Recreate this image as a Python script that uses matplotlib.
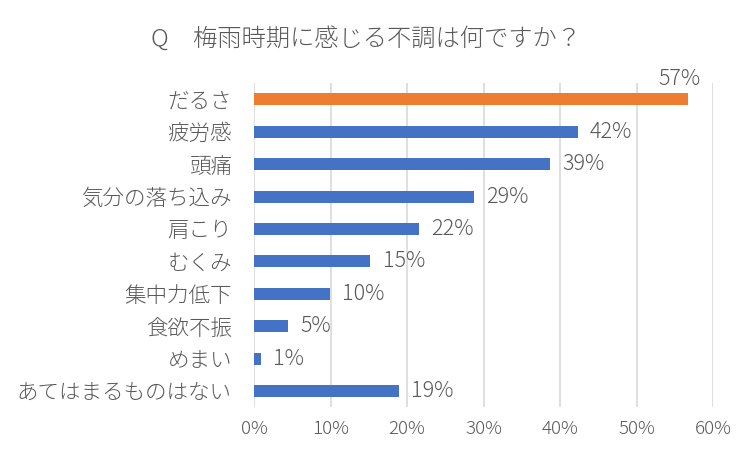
import matplotlib
matplotlib.use('Agg')
import matplotlib.pyplot as plt
import numpy as np

plt.rcParams['font.family'] = ['Noto Sans CJK JP', 'DejaVu Sans']
plt.rcParams['font.weight'] = 'light'

categories = ['だるさ', '疲労感', '頭痛', '気分の落ち込み', '肩こり', 'むくみ',
              '集中力低下', '食欲不振', 'めまい', 'あてはまるものはない']
values = [56.7, 42.3, 38.7, 28.7, 21.5, 15.2, 9.9, 4.4, 0.9, 18.9]
labels = ['57%', '42%', '39%', '29%', '22%', '15%', '10%', '5%', '1%', '19%']
bar_colors = ['#ED7D31'] + ['#4472C4'] * 9
xticks = [0, 10, 20, 30, 40, 50, 60]

text_col = '#595959'

fig = plt.figure(figsize=(7.54, 4.57), dpi=100)
ax = fig.add_axes([0.337, 0.109, 0.6086, 0.709])

y = np.arange(len(categories))
ax.barh(y, values, height=0.37, color=bar_colors, zorder=3)
ax.set_ylim(len(categories) - 0.5, -0.5)
ax.set_xlim(0, 60)
ax.set_xticks(xticks)
ax.set_xticklabels([f'{t}%' for t in xticks])
ax.set_yticks(y)
ax.set_yticklabels(categories)
ax.tick_params(axis='x', length=0, pad=9, labelsize=13.5, labelcolor=text_col)
ax.tick_params(axis='y', length=0, pad=16, labelsize=15.5, labelcolor=text_col)
ax.grid(axis='x', color='#D9D9D9', linewidth=1.2, zorder=0)
for s in ax.spines.values():
    s.set_visible(False)

for i, (v, lab) in enumerate(zip(values, labels)):
    if i == 0:
        ax.annotate(lab, xy=(v, i), xytext=(-6, 15), textcoords='offset points',
                    ha='center', va='center', fontsize=15.5, color=text_col)
    else:
        ax.annotate(lab, xy=(v, i), xytext=(9, 0), textcoords='offset points',
                    ha='left', va='center', fontsize=15.5, color=text_col)

fig.text(0.486, 0.915, 'Q\u3000梅雨時期に感じる不調は何ですか？', ha='center', va='center',
         fontsize=17.5, color=text_col)

fig.savefig('out.png', dpi=100)
